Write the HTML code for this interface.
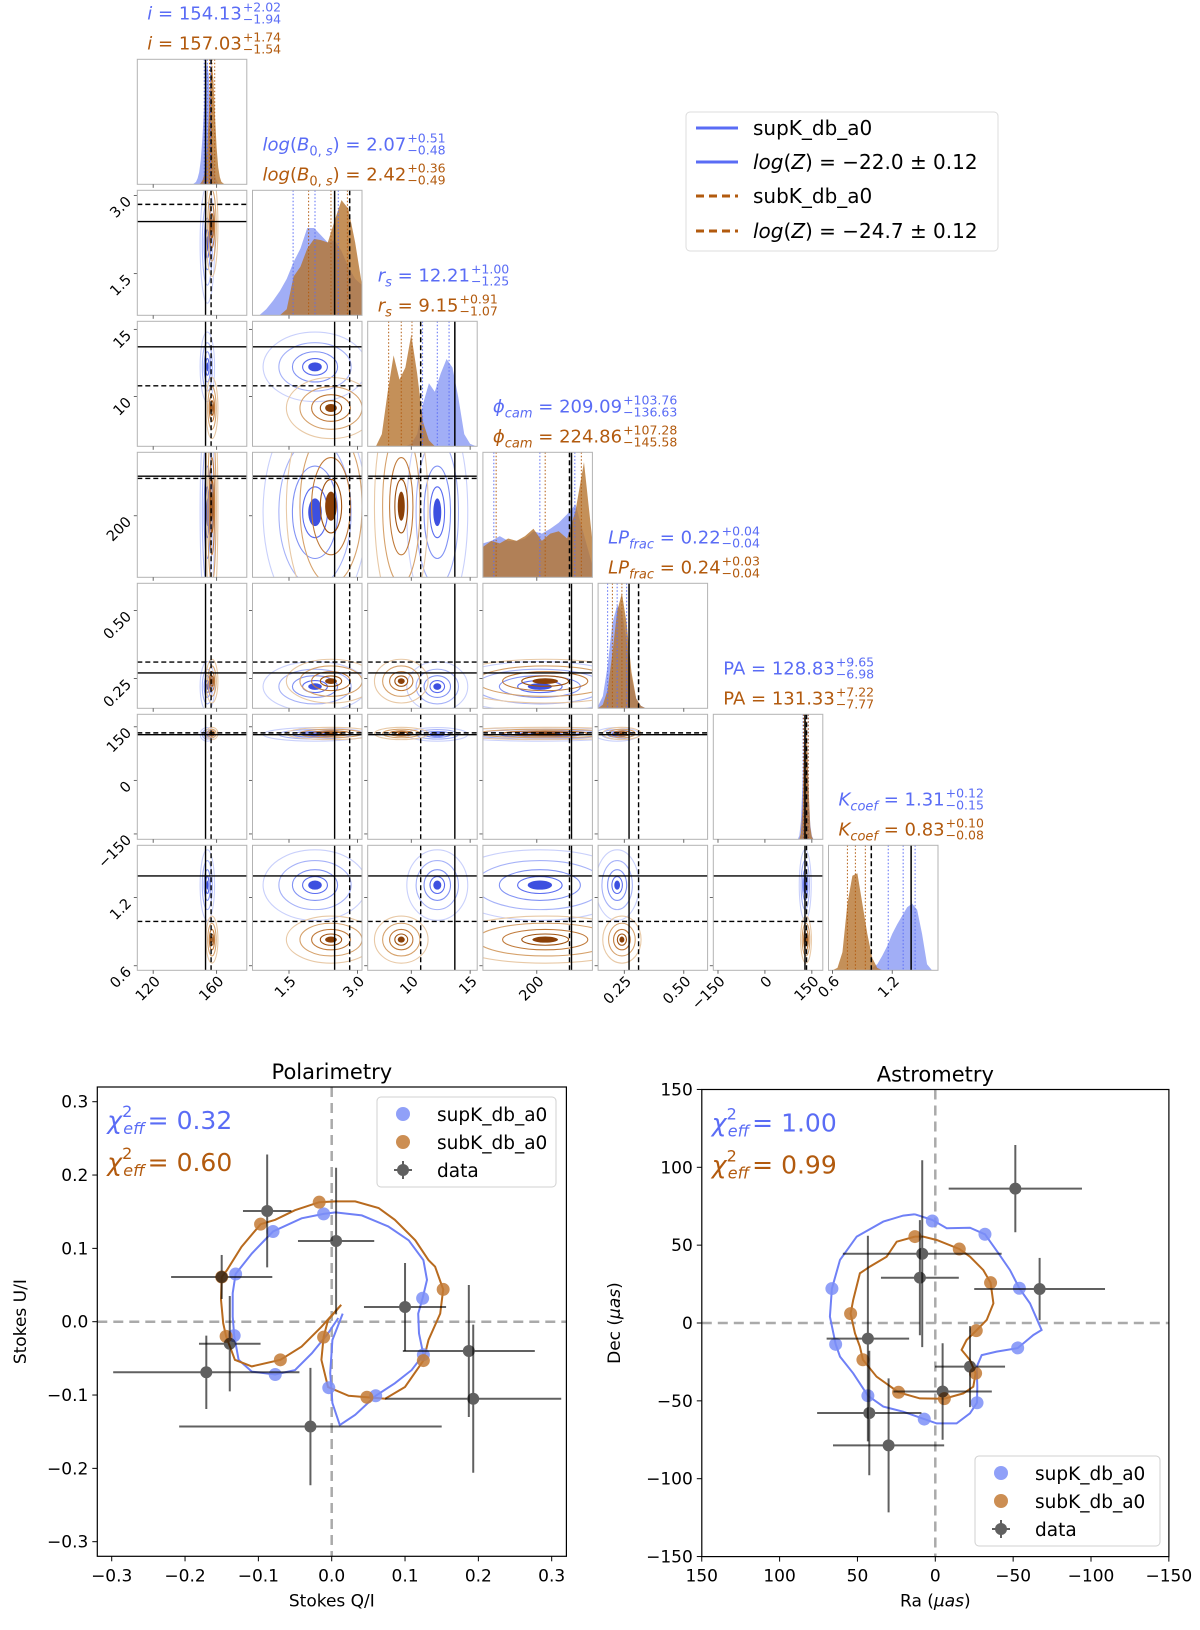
<!DOCTYPE html>
<html><head><meta charset="utf-8">
<style>
body{margin:0;background:#fff}
svg{display:block;font-family:"DejaVu Sans","Liberation Sans",sans-serif}
</style></head>
<body>
<svg id="fig" width="1200" height="1630" viewBox="0 0 1200 1630">
  <defs id="defs"></defs>
  <g id="corner"></g>
  <g>
    <rect x="686" y="112" width="312" height="139" rx="4" fill="#fff" stroke="#dcdcdc"/>
    <line x1="696" y1="128" x2="738" y2="128" stroke="#5a6cf5" stroke-width="3"/>
    <text x="753" y="135" font-size="20">supK_db_a0</text>
    <line x1="696" y1="162" x2="738" y2="162" stroke="#5a6cf5" stroke-width="3"/>
    <text x="753" y="169" font-size="20"><tspan font-style="italic">log</tspan>(<tspan font-style="italic">Z</tspan>) = −22.0 ± 0.12</text>
    <line x1="696" y1="196" x2="738" y2="196" stroke="#b25a0e" stroke-width="3" stroke-dasharray="8,5"/>
    <text x="753" y="203" font-size="20">subK_db_a0</text>
    <line x1="696" y1="231" x2="738" y2="231" stroke="#b25a0e" stroke-width="3" stroke-dasharray="8,5"/>
    <text x="753" y="238" font-size="20"><tspan font-style="italic">log</tspan>(<tspan font-style="italic">Z</tspan>) = −24.7 ± 0.12</text>
  </g>
  <g id="pol"></g>
  <g id="ast"></g>
</svg>
<script>
const NS='http://www.w3.org/2000/svg';
const BLUE='#5a6cf5', BROWN='#b25a0e';
// ---------- corner data ----------
const medBlue=[154.13,2.07,12.21,209.09,0.22,128.83,1.31];
const plusBlue=[2.02,0.51,1.00,103.76,0.04,9.65,0.12];
const minusBlue=[1.94,0.48,1.25,136.63,0.04,6.98,0.15];
const medBrown=[157.03,2.42,9.15,224.86,0.24,131.33,0.83];
const plusBrown=[1.74,0.36,0.91,107.28,0.03,7.22,0.10];
const minusBrown=[1.54,0.49,1.07,145.58,0.04,7.77,0.08];
const truthSolid=[153,2.5,13.7,303,0.27,128,1.39];
const truthDashed=[156.5,2.83,10.8,297,0.31,133,0.99];
const axisLo=[110,0.7,6.3,40,0.14,-165,0.56];
const axisHi=[179,3.1,15.6,365,0.60,185,1.66];
const histStartBlue=[145,0.7,6.5,40,0.14,105,0.6];
const histStartBrown=[149,0.7,6.5,40,0.14,105,0.6];
const histStep=[1,0.15,0.5,25,0.02,5,0.05];
const histBlue=[
 [0,0.01,0.02,0.05,0.1,0.2,0.38,0.62,0.88,1,0.9,0.65,0.38,0.18,0.07,0.03,0.01,0,0],
 [0,0,0.05,0.12,0.2,0.3,0.44,0.55,0.72,0.72,0.66,0.6,0.62,0.53,0.4,0.3,0.25],
 [0,0,0,0,0,0,0,0.02,0.1,0.35,0.52,0.45,0.6,0.72,0.65,0.4,0.1,0.02,0],
 [0.28,0.3,0.34,0.3,0.3,0.32,0.38,0.36,0.4,0.45,0.52,0.6,0.35,0.1],
 [0.02,0.1,0.35,0.7,0.85,0.8,0.55,0.25,0.08,0.02,0,0],
 [0,0.03,0.15,0.45,0.85,0.95,0.7,0.35,0.12,0.03,0,0],
 [0,0,0,0,0,0,0,0,0.02,0.05,0.12,0.2,0.3,0.38,0.45,0.52,0.55,0.5,0.3,0.05,0,0]
];
const histBrown=[
 [0,0.01,0.03,0.07,0.15,0.3,0.55,0.85,1,0.85,0.55,0.3,0.14,0.06,0.02,0.01,0],
 [0,0,0,0,0,0.05,0.32,0.4,0.55,0.63,0.62,0.6,0.78,0.95,0.88,0.6,0.25],
 [0,0,0.1,0.45,0.75,0.55,0.65,0.92,0.6,0.2,0.05,0,0,0,0,0,0,0,0],
 [0.25,0.3,0.28,0.32,0.3,0.34,0.4,0.3,0.36,0.38,0.32,0.55,0.95,0.3],
 [0,0.03,0.15,0.45,0.8,0.95,0.7,0.3,0.08,0.02,0,0],
 [0,0,0.05,0.25,0.7,1,0.8,0.4,0.1,0.02,0,0],
 [0,0.02,0.15,0.55,0.78,0.8,0.55,0.3,0.1,0.02,0,0,0,0,0,0,0,0,0,0,0,0]
];
const tickVals=[[120,160],[1.5,3.0],[10,15],[200],[0.25,0.5],[-150,0,150],[0.6,1.2]];
const tickLabels=[["120","160"],["1.5","3.0"],["10","15"],["200"],["0.25","0.50"],["−150","0","150"],["0.6","1.2"]];
const titleNames=[
 '<tspan font-style="italic">i</tspan> = ',
 '<tspan font-style="italic">log</tspan>(<tspan font-style="italic">B</tspan><tspan font-size="13" dy="5">0, <tspan font-style="italic">s</tspan></tspan><tspan dy="-5">) = </tspan>',
 '<tspan font-style="italic">r</tspan><tspan font-size="13" dy="5" font-style="italic">s</tspan><tspan dy="-5"> = </tspan>',
 '<tspan font-style="italic">ϕ</tspan><tspan font-size="13" dy="5" font-style="italic">cam</tspan><tspan dy="-5"> = </tspan>',
 '<tspan font-style="italic">LP</tspan><tspan font-size="13" dy="5" font-style="italic">frac</tspan><tspan dy="-5"> = </tspan>',
 'PA = ',
 '<tspan font-style="italic">K</tspan><tspan font-size="13" dy="5" font-style="italic">coef</tspan><tspan dy="-5"> = </tspan>'
];
const paramKeys=['i','logb','rs','phicam','lpfrac','pa','kcoef'];

// ---------- polarimetry data ----------
const polDataQ=[-0.088,0.006,-0.150,0.100,-0.139,-0.171,0.187,0.193,-0.029];
const polDataU=[0.151,0.110,0.061,0.020,-0.030,-0.069,-0.040,-0.105,-0.143];
const polDataQerr=[0.033,0.052,0.069,0.056,0.042,0.127,0.090,0.120,0.179];
const polDataUerr=[0.077,0.100,0.030,0.060,0.065,0.050,0.090,0.101,0.080];
const polBlueQ=[-0.011,-0.080,-0.131,-0.133,-0.077,-0.004,0.060,0.125,0.124];
const polBlueU=[0.147,0.123,0.065,-0.019,-0.072,-0.090,-0.101,-0.045,0.032];
const polBrownQ=[-0.017,-0.097,-0.150,-0.144,-0.070,-0.011,0.048,0.125,0.152];
const polBrownU=[0.163,0.133,0.061,-0.020,-0.052,-0.021,-0.103,-0.053,0.044];
const polBlueCurveQ=[0.015,0.001,-0.002,0.001,0.011,0.032,0.060,0.086,0.109,0.125,0.119,0.118,0.124,0.130,0.125,0.105,0.077,0.041,0.005,-0.011,-0.041,-0.080,-0.109,-0.131,-0.135,-0.135,-0.133,-0.127,-0.109,-0.077,-0.050,-0.027,-0.005,0.009];
const polBlueCurveU=[0.011,-0.025,-0.070,-0.111,-0.141,-0.127,-0.101,-0.084,-0.066,-0.045,-0.016,0.011,0.032,0.057,0.084,0.111,0.130,0.145,0.149,0.147,0.141,0.123,0.093,0.065,0.039,0.007,-0.019,-0.052,-0.068,-0.072,-0.066,-0.043,-0.016,0.005];
const polBrownCurveQ=[0.013,-0.005,-0.011,-0.014,-0.005,0.023,0.048,0.073,0.100,0.125,0.132,0.148,0.152,0.141,0.132,0.114,0.086,0.064,0.032,0.005,-0.017,-0.050,-0.077,-0.097,-0.123,-0.143,-0.150,-0.151,-0.148,-0.144,-0.132,-0.109,-0.070,-0.041,-0.014,0.013];
const polBrownCurveU=[0.023,0.002,-0.021,-0.052,-0.089,-0.101,-0.103,-0.105,-0.089,-0.053,-0.025,0.011,0.044,0.075,0.084,0.111,0.139,0.155,0.164,0.164,0.163,0.152,0.139,0.133,0.102,0.070,0.061,0.030,-0.002,-0.020,-0.052,-0.061,-0.052,-0.034,-0.007,0.023];
const polTicks=[-0.3,-0.2,-0.1,0.0,0.1,0.2,0.3];
const polTickLabels=["−0.3","−0.2","−0.1","0.0","0.1","0.2","0.3"];

// ---------- astrometry data ----------
const astDataRa=[-51.4,8.4,9.9,-67,43.3,-22.3,-4.7,42.4,30];
const astDataDec=[86.3,44.5,29.1,21.8,-10,-28,-44,-57.8,-78.6];
const astDataRaErr=[42.8,51,25,42,26.5,22.5,31.6,33.5,35.7];
const astDataDecErr=[28,60,37,20,66,26,31,40,43];
const astBlueRa=[1.9,-31.9,-54,-52.9,-26.8,7.1,43.3,64,66.4];
const astBlueDec=[65.5,57,22.3,-16,-51.2,-61.7,-46.7,-13.7,22.1];
const astBrownRa=[13.1,-15.4,-35.5,-26.3,-25.9,-5.8,23.6,46.5,54.4];
const astBrownDec=[55.5,47.5,25.9,-4.9,-32.3,-48.6,-44.5,-23.6,6];
const astBlueCurveRa=[13.1,1.9,-7.3,-22.3,-31.9,-40.5,-48,-54,-60.8,-68.3,-63,-52.9,-39.4,-29.8,-26.6,-27,-26.8,-22.3,-13.7,-0.9,7.1,20.6,33.4,43.3,52.7,61.2,64,67.7,66.4,61.2,50.5,33.4,20.6,13.1];
const astBlueCurveDec=[69.8,66.2,60.8,61.2,57,44.8,34,22.3,12.6,-4.5,-7.7,-16.1,-18.4,-20.6,-28.1,-40.9,-51.2,-58,-64.5,-64.5,-61.7,-57,-53.7,-46.7,-32.3,-21.6,-13.7,4.1,22.1,40.5,55.5,65.1,69,69.8];
const astBrownCurveRa=[13.1,24.8,31.3,42,48.4,52.7,54.4,51.6,48.4,46.5,37.7,23.6,9.9,-5.8,-18,-24.4,-25.9,-22.3,-16.9,-20.1,-26.3,-33,-37.3,-35.5,-30.8,-22.3,-15.4,-0.9,7.7,13.1];
const astBrownCurveDec=[55.5,52.2,42.6,36.2,31.9,14.8,6,-6.6,-15.2,-23.6,-34.5,-44.5,-48.4,-48.6,-45.2,-40.9,-32.3,-23.8,-17.3,-10.9,-4.9,1.9,12.6,25.9,34,42.6,47.5,53.3,55.5,55.5];
const astTicks=[150,100,50,0,-50,-100,-150];
const astTickLabels=["150","100","50","0","−50","−100","−150"];

// ---------- helpers ----------
function mk(tag,attrs,parent){const e=document.createElementNS(NS,tag);for(const k in attrs)e.setAttribute(k,attrs[k]);if(parent)parent.appendChild(e);return e;}

// ---------- corner plot ----------
const X0=137.3,DX=115.2,W=109.5,Y0=59.3,DY=131,H=125;
const corner=document.getElementById('corner');
const defs=document.getElementById('defs');
function px(c,v){return X0+DX*c+(v-axisLo[c])/(axisHi[c]-axisLo[c])*W;}
function py(r,v){return Y0+DY*r+H-(v-axisLo[r])/(axisHi[r]-axisLo[r])*H;}
const blueLevels=['#c9d0fb','#a6b2f8','#8192f4','#5a6cf0'];
const brownLevels=['#e8c9a6','#d6a26c','#c07a3a','#a0520f'];
const levelK=[2.3,1.6,1.0,0.55];

for(let r=0;r<7;r++){
  for(let c=0;c<=r;c++){
    const x0=X0+DX*c,y0=Y0+DY*r;
    const g=mk('g',{},corner);
    
    
    const cp=mk('clipPath',{id:'cp'+r+'_'+c},defs);
    mk('rect',{x:x0,y:y0,width:W,height:H},cp);
    const inner=mk('g',{'clip-path':'url(#cp'+r+'_'+c+')'},g);
    if(c===r){
      const series=[[histBlue[c],histStartBlue[c],'#8193f3',0.75],[histBrown[c],histStartBrown[c],'#b5742f',0.8]];
      series.forEach(([vals,st,col,op],si)=>{
        let d='M'+px(c,st)+','+(y0+H);
        vals.forEach((v,k)=>{d+=' L'+px(c,st+k*histStep[c]).toFixed(2)+','+(y0+H-v*H*0.97).toFixed(2);});
        d+=' L'+px(c,st+(vals.length-1)*histStep[c])+','+(y0+H)+' Z';
        const p=mk('path',{d:d,fill:col,'fill-opacity':op,stroke:'none'},inner);
        
        
      });
      const qs=[[medBlue,plusBlue,minusBlue,BLUE],[medBrown,plusBrown,minusBrown,BROWN]];
      qs.forEach(([m,p,n,col])=>{
        [m[c]-n[c],m[c],m[c]+p[c]].forEach(v=>{
          const l=mk('line',{x1:px(c,v),x2:px(c,v),y1:y0,y2:y0+H,stroke:col,'stroke-width':1,'stroke-dasharray':'1.5,2'},inner);
          
          
        });
      });
      const ls=mk('line',{x1:px(c,truthSolid[c]),x2:px(c,truthSolid[c]),y1:y0,y2:y0+H,stroke:'#000','stroke-width':1.5},inner);
      
      
      const ld=mk('line',{x1:px(c,truthDashed[c]),x2:px(c,truthDashed[c]),y1:y0,y2:y0+H,stroke:'#000','stroke-width':1.5,'stroke-dasharray':'5,3'},inner);
      
      
    } else {
      const series=[[medBlue,plusBlue,minusBlue,blueLevels,'#3d50e0'],[medBrown,plusBrown,minusBrown,brownLevels,'#8a4008']];
      series.forEach(([m,p,n,levels,core],si)=>{
        const ex=(p[c]+n[c])/2, ey=(p[r]+n[r])/2;
        levelK.forEach((k,li)=>{
          const e=mk('ellipse',{cx:px(c,m[c]),cy:py(r,m[r]),rx:Math.abs(px(c,m[c]+ex*k)-px(c,m[c])),ry:Math.abs(py(r,m[r]+ey*k)-py(r,m[r])),fill:'none',stroke:levels[li],'stroke-width':1.1},inner);
          
          
        });
        const e=mk('ellipse',{cx:px(c,m[c]),cy:py(r,m[r]),rx:Math.abs(px(c,m[c]+ex*0.3)-px(c,m[c])),ry:Math.abs(py(r,m[r]+ey*0.3)-py(r,m[r])),fill:core,stroke:'none'},inner);
        
        
      });
      [[truthSolid,null],[truthDashed,'5,3']].forEach(([t,da])=>{
        const a={x1:px(c,t[c]),x2:px(c,t[c]),y1:y0,y2:y0+H,stroke:'#000','stroke-width':1.4};
        if(da)a['stroke-dasharray']=da;
        const lv=mk('line',a,inner);
        
        
        const b={x1:x0,x2:x0+W,y1:py(r,t[r]),y2:py(r,t[r]),stroke:'#000','stroke-width':1.4};
        if(da)b['stroke-dasharray']=da;
        const lh=mk('line',b,inner);
        
        
      });
      tickVals[r].forEach(v=>{mk('line',{x1:x0-3.5,x2:x0,y1:py(r,v),y2:py(r,v),stroke:'#444','stroke-width':0.8},g);});
    }
    const fr=mk('rect',{x:x0,y:y0,width:W,height:H,fill:'none',stroke:'#b3b3b3','stroke-width':1},g);
    
    
    tickVals[c].forEach(v=>{mk('line',{x1:px(c,v),x2:px(c,v),y1:y0+H,y2:y0+H+3.5,stroke:'#444','stroke-width':0.8},g);});
  }
}
// tick labels
for(let c=0;c<7;c++){
  const yb=Y0+DY*6+H;
  tickVals[c].forEach((v,k)=>{
    const x=px(c,v)+5,y=yb+9;
    const t=mk('text',{x:x,y:y,'font-size':14.5,'text-anchor':'end','dominant-baseline':'middle',transform:'rotate(-45 '+x+' '+y+')'},corner);
    t.textContent=tickLabels[c][k];
    
    
  });
}
for(let r=1;r<7;r++){
  tickVals[r].forEach((v,k)=>{
    const x=X0-8,y=py(r,v)+4;
    const t=mk('text',{x:x,y:y,'font-size':14.5,'text-anchor':'end','dominant-baseline':'middle',transform:'rotate(-45 '+x+' '+y+')'},corner);
    t.textContent=tickLabels[r][k];
    
    
  });
}
// titles
for(let c=0;c<7;c++){
  const x0=X0+DX*c+10,y0=Y0+DY*c;
  [[medBlue,plusBlue,minusBlue,BLUE,y0-40],[medBrown,plusBrown,minusBrown,BROWN,y0-10]].forEach(([m,p,n,col,yb],si)=>{
    const g=mk('g',{},corner);
    
    
    const t=mk('text',{x:x0,y:yb,'font-size':18,fill:col},g);
    t.innerHTML=titleNames[c]+'<tspan dy="0">'+m[c].toFixed(2)+'</tspan>';
    const len=t.getComputedTextLength();
    const sp=mk('text',{x:x0+len+1,y:yb-8,'font-size':12.5,fill:col},g);
    sp.textContent='+'+p[c].toFixed(2);
    const sb=mk('text',{x:x0+len+1,y:yb+4,'font-size':12.5,fill:col},g);
    sb.textContent='−'+n[c].toFixed(2);
  });
}

// ---------- scatter panels ----------
function scatterPanel(opt){
  const G=document.getElementById(opt.id);
  const {L,R,T,B}=opt;
  const cp=mk('clipPath',{id:'clip'+opt.id},defs);
  mk('rect',{x:L,y:T,width:R-L,height:B-T},cp);
  const inner=mk('g',{'clip-path':'url(#clip'+opt.id+')'},G);
  const zx=mk('line',{x1:opt.xs(0),x2:opt.xs(0),y1:T,y2:B,stroke:'#aaa','stroke-width':2.5,'stroke-dasharray':'10,6'},inner);
  
  
  const zy=mk('line',{x1:L,x2:R,y1:opt.ys(0),y2:opt.ys(0),stroke:'#aaa','stroke-width':2.5,'stroke-dasharray':'10,6'},inner);
  
  
  [[opt.bcx,opt.bcy,'#6f80f6','model-curve-supk'],[opt.ocx,opt.ocy,'#b86a1e','model-curve-subk']].forEach(([cx,cy,col,nm])=>{
    const d=cx.map((v,k)=>(k?'L':'M')+opt.xs(v).toFixed(1)+','+opt.ys(cy[k]).toFixed(1)).join(' ');
    const p=mk('path',{d:d,fill:'none',stroke:col,'stroke-width':2},inner);
    
    
  });
  [[opt.bx,opt.by,'#7d8ff7','model-point-supk'],[opt.ox,opt.oy,'#c37a35','model-point-subk']].forEach(([xx,yy,col,nm])=>{
    xx.forEach((v,k)=>{
      const c=mk('circle',{cx:opt.xs(v),cy:opt.ys(yy[k]),r:6.5,fill:col,'fill-opacity':0.85},inner);
      
      
    });
  });
  opt.dx.forEach((v,k)=>{
    const g=mk('g',{opacity:0.62},inner);
    
    
    const x=opt.xs(v),y=opt.ys(opt.dy[k]);
    mk('line',{x1:opt.xs(v-opt.dxe[k]),x2:opt.xs(v+opt.dxe[k]),y1:y,y2:y,stroke:'#000','stroke-width':2},g);
    mk('line',{x1:x,x2:x,y1:opt.ys(opt.dy[k]-opt.dye[k]),y2:opt.ys(opt.dy[k]+opt.dye[k]),stroke:'#000','stroke-width':2},g);
    mk('circle',{cx:x,cy:y,r:6,fill:'#000'},g);
  });
  const fr=mk('rect',{x:L,y:T,width:R-L,height:B-T,fill:'none',stroke:'#000','stroke-width':1.2},G);
  
  
  opt.ticks.forEach((v,k)=>{
    const x=opt.xs(v);
    if(x>=L-1&&x<=R+1){
      mk('line',{x1:x,x2:x,y1:B,y2:B+5,stroke:'#000','stroke-width':1},G);
      const t=mk('text',{x:x,y:B+25,'font-size':17,'text-anchor':'middle'},G);
      t.textContent=opt.tickLabels[k];
      
      
    }
  });
  opt.ticks.forEach((v,k)=>{
    const y=opt.ys(v);
    if(y>=T-1&&y<=B+1){
      mk('line',{x1:L-5,x2:L,y1:y,y2:y,stroke:'#000','stroke-width':1},G);
      const t=mk('text',{x:L-9,y:y+6,'font-size':17,'text-anchor':'end'},G);
      t.textContent=opt.tickLabels[k];
      
      
    }
  });
  const ti=mk('text',{x:(L+R)/2,y:T-8,'font-size':21,'text-anchor':'middle'},G);
  ti.textContent=opt.title;
  
  
  const xl=mk('text',{x:(L+R)/2,y:B+50,'font-size':17,'text-anchor':'middle'},G);
  xl.innerHTML=opt.xlabel;
  
  
  const yx=opt.ylabelX,yy=(T+B)/2;
  const yl=mk('text',{x:yx,y:yy,'font-size':17,'text-anchor':'middle',transform:'rotate(-90 '+yx+' '+yy+')'},G);
  yl.innerHTML=opt.ylabel;
  
  
  [[opt.chiB,BLUE,T+42],[opt.chiO,BROWN,T+84]].forEach(([v,col,yb],si)=>{
    const t=mk('text',{x:L+10,y:yb,'font-size':25,fill:col},G);
    t.innerHTML='<tspan font-style="italic">χ</tspan><tspan font-size="16" dy="-12">2</tspan><tspan font-size="16" font-style="italic" dx="-9" dy="17">eff</tspan><tspan dy="-5" dx="3">= '+v+'</tspan>';
    
    
  });
  const lg=mk('g',{},G);
  
  
  const {lx,ly,lw}=opt.leg;
  mk('rect',{x:lx,y:ly,width:lw,height:90,rx:4,fill:'#fff','fill-opacity':0.85,stroke:'#d0d0d0'},lg);
  const ent=[['#7d8ff7','supK_db_a0'],['#c37a35','subK_db_a0'],['#000','data']];
  ent.forEach(([col,lab],k)=>{
    const cy=ly+17+k*28;
    const e=mk('g',{},lg);
    
    
    if(k<2) mk('circle',{cx:lx+26,cy:cy,r:7,fill:col,'fill-opacity':0.85},e);
    else {
      const gg=mk('g',{opacity:0.62},e);
      mk('line',{x1:lx+17,x2:lx+35,y1:cy,y2:cy,stroke:'#000','stroke-width':2},gg);
      mk('line',{x1:lx+26,x2:lx+26,y1:cy-9,y2:cy+9,stroke:'#000','stroke-width':2},gg);
      mk('circle',{cx:lx+26,cy:cy,r:6,fill:'#000'},gg);
    }
    const t=mk('text',{x:lx+60,y:cy+7,'font-size':18.5},e);
    t.textContent=lab;
  });
}

const PQ0=331.7,PU0=1321.7,PS=733.3;
scatterPanel({id:'pol',L:97.3,R:566.4,T:1087,B:1556.3,
  xs:v=>PQ0+v*PS, ys:v=>PU0-v*PS,
  bcx:polBlueCurveQ,bcy:polBlueCurveU,ocx:polBrownCurveQ,ocy:polBrownCurveU,
  bx:polBlueQ,by:polBlueU,ox:polBrownQ,oy:polBrownU,
  dx:polDataQ,dy:polDataU,dxe:polDataQerr,dye:polDataUerr,
  ticks:polTicks,tickLabels:polTickLabels,title:'Polarimetry',
  xlabel:'Stokes Q/I',ylabel:'Stokes U/I',ylabelX:26,
  chiB:'0.32',chiO:'0.60',leg:{lx:377,ly:1097,lw:179}});
const AX0=935.3,AY0=1323,AS=1.557;
scatterPanel({id:'ast',L:701.8,R:1168.9,T:1089.5,B:1556.6,
  xs:v=>AX0-v*AS, ys:v=>AY0-v*AS,
  bcx:astBlueCurveRa,bcy:astBlueCurveDec,ocx:astBrownCurveRa,ocy:astBrownCurveDec,
  bx:astBlueRa,by:astBlueDec,ox:astBrownRa,oy:astBrownDec,
  dx:astDataRa,dy:astDataDec,dxe:astDataRaErr,dye:astDataDecErr,
  ticks:astTicks,tickLabels:astTickLabels,title:'Astrometry',
  xlabel:'Ra (<tspan font-style="italic">μas</tspan>)',ylabel:'Dec (<tspan font-style="italic">μas</tspan>)',ylabelX:620,
  chiB:'1.00',chiO:'0.99',leg:{lx:975,ly:1456,lw:185}});
</script>
</body></html>
